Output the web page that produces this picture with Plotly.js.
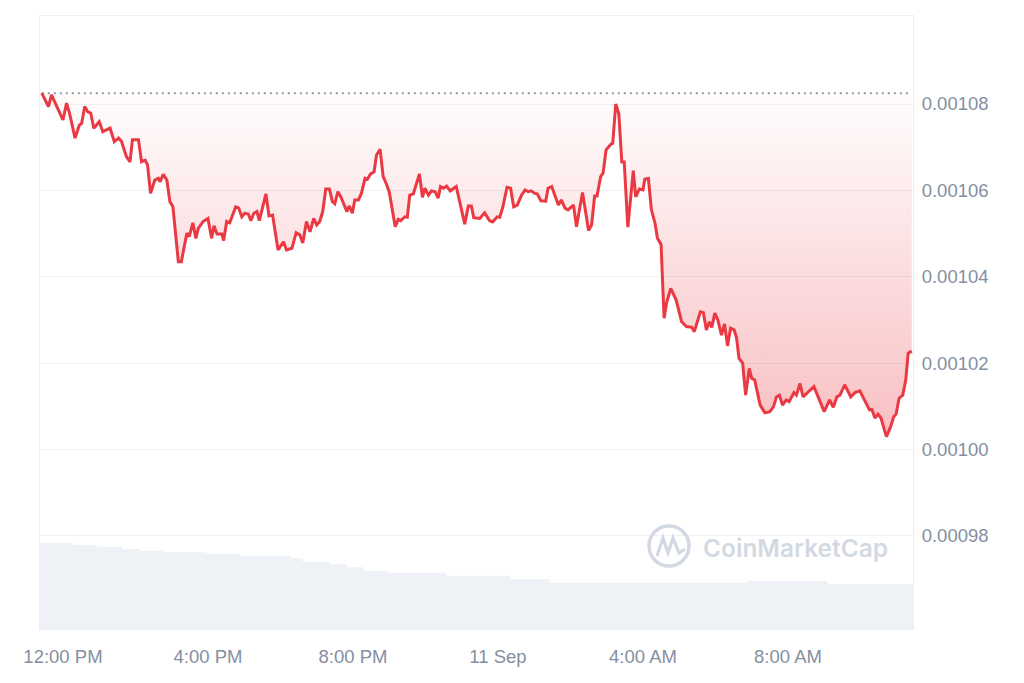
<!DOCTYPE html>
<html>
<head>
<meta charset="utf-8">
<script src="https://cdn.plot.ly/plotly-3.0.1.min.js"></script>
<style>html,body{margin:0;padding:0;background:#fff;}#chart{width:1024px;height:683px;}</style>
</head>
<body>
<div id="chart"></div>
<script>
// Price series (USD)
const times = [
"2024-09-10 11:25","2024-09-10 11:36","2024-09-10 11:41","2024-09-10 12:00","2024-09-10 12:06","2024-09-10 12:11","2024-09-10 12:20","2024-09-10 12:27","2024-09-10 12:31","2024-09-10 12:36",
"2024-09-10 12:41","2024-09-10 12:46","2024-09-10 12:51","2024-09-10 13:00","2024-09-10 13:06","2024-09-10 13:18","2024-09-10 13:25","2024-09-10 13:32","2024-09-10 13:37","2024-09-10 13:45",
"2024-09-10 13:51","2024-09-10 13:55","2024-09-10 14:05","2024-09-10 14:10","2024-09-10 14:16","2024-09-10 14:20","2024-09-10 14:25","2024-09-10 14:32","2024-09-10 14:38","2024-09-10 14:41",
"2024-09-10 14:46","2024-09-10 14:52","2024-09-10 14:57","2024-09-10 15:02","2024-09-10 15:11","2024-09-10 15:16","2024-09-10 15:25","2024-09-10 15:29","2024-09-10 15:35","2024-09-10 15:40",
"2024-09-10 15:44","2024-09-10 15:52","2024-09-10 16:00","2024-09-10 16:06","2024-09-10 16:10","2024-09-10 16:15","2024-09-10 16:23","2024-09-10 16:26","2024-09-10 16:31","2024-09-10 16:36",
"2024-09-10 16:46","2024-09-10 16:51","2024-09-10 16:56","2024-09-10 17:01","2024-09-10 17:07","2024-09-10 17:11","2024-09-10 17:16","2024-09-10 17:21","2024-09-10 17:25","2024-09-10 17:36",
"2024-09-10 17:41","2024-09-10 17:47","2024-09-10 17:56","2024-09-10 18:05","2024-09-10 18:10","2024-09-10 18:19","2024-09-10 18:26","2024-09-10 18:32","2024-09-10 18:37","2024-09-10 18:43",
"2024-09-10 18:49","2024-09-10 18:55","2024-09-10 19:00","2024-09-10 19:05","2024-09-10 19:10","2024-09-10 19:15","2024-09-10 19:21","2024-09-10 19:26","2024-09-10 19:30","2024-09-10 19:35",
"2024-09-10 19:40","2024-09-10 19:50","2024-09-10 19:54","2024-09-10 19:59","2024-09-10 20:03","2024-09-10 20:09","2024-09-10 20:14","2024-09-10 20:20","2024-09-10 20:24","2024-09-10 20:29",
"2024-09-10 20:35","2024-09-10 20:39","2024-09-10 20:45","2024-09-10 20:50","2024-09-10 20:55","2024-09-10 21:00","2024-09-10 21:10","2024-09-10 21:15","2024-09-10 21:19","2024-09-10 21:26",
"2024-09-10 21:30","2024-09-10 21:34","2024-09-10 21:40","2024-09-10 21:50","2024-09-10 21:55","2024-09-10 21:59","2024-09-10 22:05","2024-09-10 22:10","2024-09-10 22:16","2024-09-10 22:21",
"2024-09-10 22:25","2024-09-10 22:30","2024-09-10 22:35","2024-09-10 22:41","2024-09-10 22:51","2024-09-10 22:58","2024-09-10 23:05","2024-09-10 23:11","2024-09-10 23:16","2024-09-10 23:20",
"2024-09-10 23:30","2024-09-10 23:38","2024-09-10 23:46","2024-09-10 23:51","2024-09-10 23:59","2024-09-11 00:03","2024-09-11 00:08","2024-09-11 00:15","2024-09-11 00:21","2024-09-11 00:26",
"2024-09-11 00:32","2024-09-11 00:39","2024-09-11 00:45","2024-09-11 00:50","2024-09-11 00:55","2024-09-11 01:01","2024-09-11 01:05","2024-09-11 01:11","2024-09-11 01:19","2024-09-11 01:23",
"2024-09-11 01:29","2024-09-11 01:40","2024-09-11 01:45","2024-09-11 01:51","2024-09-11 01:56","2024-09-11 02:05","2024-09-11 02:10","2024-09-11 02:20","2024-09-11 02:30","2024-09-11 02:35",
"2024-09-11 02:40","2024-09-11 02:44","2024-09-11 02:50","2024-09-11 02:54","2024-09-11 02:59","2024-09-11 03:07","2024-09-11 03:10","2024-09-11 03:15","2024-09-11 03:20","2024-09-11 03:25",
"2024-09-11 03:29","2024-09-11 03:35","2024-09-11 03:40","2024-09-11 03:44","2024-09-11 03:48","2024-09-11 03:54","2024-09-11 04:00","2024-09-11 04:03","2024-09-11 04:09","2024-09-11 04:14",
"2024-09-11 04:20","2024-09-11 04:24","2024-09-11 04:30","2024-09-11 04:35","2024-09-11 04:39","2024-09-11 04:46","2024-09-11 04:55","2024-09-11 05:04","2024-09-11 05:12","2024-09-11 05:21",
"2024-09-11 05:25","2024-09-11 05:35","2024-09-11 05:40","2024-09-11 05:45","2024-09-11 05:50","2024-09-11 05:54","2024-09-11 05:59","2024-09-11 06:04","2024-09-11 06:10","2024-09-11 06:15",
"2024-09-11 06:20","2024-09-11 06:25","2024-09-11 06:31","2024-09-11 06:35","2024-09-11 06:39","2024-09-11 06:45","2024-09-11 06:50","2024-09-11 06:56","2024-09-11 07:00","2024-09-11 07:05",
"2024-09-11 07:14","2024-09-11 07:22","2024-09-11 07:30","2024-09-11 07:36","2024-09-11 07:41","2024-09-11 07:46","2024-09-11 07:51","2024-09-11 07:57","2024-09-11 08:02","2024-09-11 08:10",
"2024-09-11 08:14","2024-09-11 08:20","2024-09-11 08:25","2024-09-11 08:34","2024-09-11 08:43","2024-09-11 08:50","2024-09-11 09:00","2024-09-11 09:09","2024-09-11 09:15","2024-09-11 09:21",
"2024-09-11 09:26","2024-09-11 09:34","2024-09-11 09:44","2024-09-11 09:51","2024-09-11 09:59","2024-09-11 10:08","2024-09-11 10:15","2024-09-11 10:19","2024-09-11 10:24","2024-09-11 10:29",
"2024-09-11 10:34","2024-09-11 10:43","2024-09-11 10:50","2024-09-11 10:55","2024-09-11 10:59","2024-09-11 11:04","2024-09-11 11:10","2024-09-11 11:15","2024-09-11 11:19","2024-09-11 11:25"
];
const prices = [
0.0010825,0.0010794,0.0010821,0.0010763,0.0010802,0.0010778,0.0010721,0.0010751,0.0010755,0.0010794,
0.0010782,0.0010779,0.0010744,0.0010759,0.0010736,0.0010744,0.0010713,0.0010721,0.0010713,0.0010678,
0.0010666,0.0010717,0.0010717,0.0010666,0.0010670,0.0010659,0.0010593,0.0010624,0.0010628,0.0010620,
0.0010637,0.0010624,0.0010574,0.0010562,0.0010435,0.0010435,0.0010501,0.0010493,0.0010525,0.0010489,
0.0010512,0.0010528,0.0010535,0.0010489,0.0010518,0.0010499,0.0010499,0.0010484,0.0010528,0.0010525,
0.0010562,0.0010559,0.0010539,0.0010547,0.0010545,0.0010530,0.0010547,0.0010551,0.0010530,0.0010592,
0.0010541,0.0010543,0.0010462,0.0010481,0.0010462,0.0010466,0.0010502,0.0010497,0.0010478,0.0010528,
0.0010504,0.0010535,0.0010520,0.0010528,0.0010551,0.0010603,0.0010603,0.0010574,0.0010569,0.0010597,
0.0010585,0.0010551,0.0010564,0.0010547,0.0010578,0.0010578,0.0010593,0.0010628,0.0010626,0.0010638,
0.0010643,0.0010682,0.0010695,0.0010632,0.0010616,0.0010597,0.0010516,0.0010533,0.0010530,0.0010539,
0.0010538,0.0010589,0.0010592,0.0010638,0.0010584,0.0010605,0.0010589,0.0010599,0.0010597,0.0010582,
0.0010609,0.0010605,0.0010610,0.0010599,0.0010609,0.0010562,0.0010522,0.0010564,0.0010564,0.0010537,
0.0010535,0.0010548,0.0010530,0.0010527,0.0010539,0.0010538,0.0010561,0.0010607,0.0010605,0.0010562,
0.0010566,0.0010589,0.0010601,0.0010597,0.0010599,0.0010593,0.0010592,0.0010576,0.0010575,0.0010605,
0.0010609,0.0010566,0.0010578,0.0010559,0.0010555,0.0010566,0.0010516,0.0010595,0.0010507,0.0010520,
0.0010587,0.0010587,0.0010632,0.0010640,0.0010694,0.0010707,0.0010709,0.0010800,0.0010778,0.0010666,
0.0010666,0.0010515,0.0010589,0.0010646,0.0010585,0.0010603,0.0010601,0.0010626,0.0010628,0.0010555,
0.0010524,0.0010489,0.0010475,0.0010304,0.0010339,0.0010373,0.0010346,0.0010296,0.0010285,0.0010283,
0.0010273,0.0010319,0.0010317,0.0010277,0.0010296,0.0010283,0.0010316,0.0010300,0.0010265,0.0010291,
0.0010240,0.0010281,0.0010277,0.0010258,0.0010211,0.0010200,0.0010126,0.0010188,0.0010165,0.0010161,
0.0010103,0.0010085,0.0010088,0.0010099,0.0010122,0.0010126,0.0010103,0.0010115,0.0010111,0.0010132,
0.0010126,0.0010153,0.0010122,0.0010134,0.0010146,0.0010122,0.0010088,0.0010115,0.0010098,0.0010122,
0.0010126,0.0010150,0.0010122,0.0010132,0.0010136,0.0010111,0.0010092,0.0010093,0.0010073,0.0010082,
0.0010073,0.0010030,0.0010053,0.0010076,0.0010082,0.0010119,0.0010126,0.0010161,0.0010223,0.0010228
];

// Volume (relative, step series)
const volumeTimes = [
"2024-09-10 11:22","2024-09-10 12:17","2024-09-10 12:56","2024-09-10 13:38","2024-09-10 14:07","2024-09-10 14:46",
"2024-09-10 15:58","2024-09-10 16:53","2024-09-10 18:16","2024-09-10 18:37","2024-09-10 19:22","2024-09-10 19:50",
"2024-09-10 20:17","2024-09-10 20:58","2024-09-10 22:35","2024-09-11 00:20","2024-09-11 01:26","2024-09-11 06:52",
"2024-09-11 09:05","2024-09-11 11:27"
];
const volumes = [
1.00,0.977,0.957,0.930,0.910,0.892,
0.872,0.852,0.822,0.783,0.756,0.717,
0.678,0.655,0.620,0.578,0.538,0.558,
0.523,0.523
];

// Axis ticks
const xTickVals = ["2024-09-10 12:00","2024-09-10 16:00","2024-09-10 20:00","2024-09-11 00:00","2024-09-11 04:00","2024-09-11 08:00"];
const xTickText = ["12:00 PM","4:00 PM","8:00 PM","11 Sep","4:00 AM","8:00 AM"];
const yTickVals = [0.00098,0.00100,0.00102,0.00104,0.00106,0.00108];
const yTickText = ["0.00098","0.00100","0.00102","0.00104","0.00106","0.00108"];

const openPrice = prices[0];
const lowPrice = Math.min.apply(null, prices);

const traces = [
  {
    x: [times[0], times[times.length-1]], y: [openPrice, openPrice],
    type: 'scatter', mode: 'lines', hoverinfo: 'skip',
    line: {color: '#8e97a9', width: 2, dash: '2px,4px'}
  },
  {
    x: times, y: prices, type: 'scatter', mode: 'lines',
    line: {color: '#ea3943', width: 3},
    fill: 'tonexty',
    fillcolor: 'rgba(234,57,67,0.15)',
    fillgradient: {
      type: 'vertical',
      start: lowPrice, stop: openPrice,
      colorscale: [[0, 'rgba(234,57,67,0.32)'], [1, 'rgba(234,57,67,0.01)']]
    }
  },
  {
    x: volumeTimes, y: volumes, yaxis: 'y2', type: 'scatter', mode: 'lines',
    line: {shape: 'hv', width: 0, color: '#eef1f5'},
    fill: 'tozeroy', fillcolor: '#eef1f5', hoverinfo: 'skip'
  }
];

function px(x) { return (x - 40) / 873; }
function py(y) { return (629 - y) / 613; }
const wm = '#d3d9e3';

const layout = {
  width: 1024, height: 683,
  margin: {l: 40, r: 111, t: 16, b: 54, pad: 0},
  paper_bgcolor: '#ffffff', plot_bgcolor: '#ffffff',
  showlegend: false,
  font: {family: '"Liberation Sans", Arial, sans-serif', size: 18.5, color: '#858fa2'},
  xaxis: {
    type: 'date', range: ['2024-09-10 11:22', '2024-09-11 11:27'],
    tickmode: 'array', tickvals: xTickVals, ticktext: xTickText,
    showgrid: false, zeroline: false, ticks: '',
    showline: true, mirror: true, linecolor: '#eceff3', linewidth: 1,
    ticklabelstandoff: 11, fixedrange: true
  },
  yaxis: {
    side: 'right', range: [0.00095847, 0.00110037],
    tickmode: 'array', tickvals: yTickVals, ticktext: yTickText,
    showgrid: true, gridcolor: '#eff1f4', gridwidth: 1, zeroline: false, ticks: '',
    showline: true, mirror: true, linecolor: '#eceff3', linewidth: 1,
    ticklabelstandoff: 4, fixedrange: true
  },
  yaxis2: {overlaying: 'y', range: [0, 7.128], visible: false, fixedrange: true},
  shapes: [
    {type: 'circle', xref: 'paper', yref: 'paper', x0: px(649), x1: px(689), y0: py(566), y1: py(526),
     line: {color: wm, width: 3.5}},
    {type: 'path', xref: 'paper', yref: 'paper',
     path: 'M' + px(657) + ',' + py(556) + ' L' + px(663) + ',' + py(538) + ' L' + px(668) + ',' + py(553) +
           ' L' + px(673) + ',' + py(538) + ' L' + px(679) + ',' + py(553) + ' L' + px(685) + ',' + py(549),
     line: {color: wm, width: 3.2}}
  ],
  annotations: [
    {text: 'CoinMarketCap', xref: 'paper', yref: 'paper', x: px(701), y: py(548),
     xanchor: 'left', yanchor: 'middle', showarrow: false,
     font: {family: 'Inter, "Open Sans", sans-serif', size: 24.5, color: wm, weight: 600}}
  ]
};

Plotly.newPlot('chart', traces, layout, {displayModeBar: false, staticPlot: true});
</script>
</body>
</html>
